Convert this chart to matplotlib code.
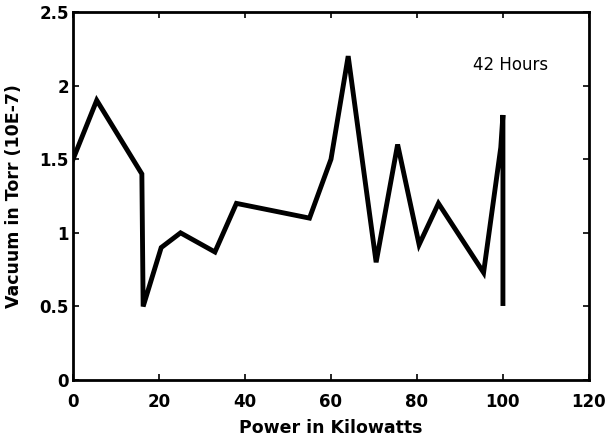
import matplotlib
matplotlib.use("Agg")
import matplotlib.pyplot as plt

power_kw = [0, 5.5, 16, 16.3, 20.5, 25, 33, 38, 55, 60, 64, 70.5, 75.5, 80.5, 85, 95.5, 99.5, 100, 100]
vacuum = [1.5, 1.9, 1.4, 0.5, 0.9, 1.0, 0.87, 1.2, 1.1, 1.5, 2.2, 0.8, 1.6, 0.92, 1.2, 0.73, 1.58, 1.8, 0.52]
x_ticks = [0, 20, 40, 60, 80, 100, 120]
y_ticks = [0, 0.5, 1, 1.5, 2, 2.5]
y_tick_labels = ["0", "0.5", "1", "1.5", "2", "2.5"]

plt.rcParams['font.family'] = ['DejaVu Sans']

fig = plt.figure(figsize=(6.09, 4.42), dpi=100)
ax = fig.add_axes([0.12, 0.14, 0.847, 0.833])
ax.plot(power_kw, vacuum, color='black', linewidth=3.5, solid_joinstyle='miter')
ax.set_xlim(0, 120)
ax.set_ylim(0, 2.5)
ax.set_xticks(x_ticks)
ax.set_yticks(y_ticks)
ax.set_yticklabels(y_tick_labels)
ax.tick_params(direction='in', top=True, right=True, length=4, width=1.2,
               labelsize=12)
ax.tick_params(axis='x', pad=9)
ax.tick_params(axis='y', pad=3)
for lbl in ax.get_xticklabels() + ax.get_yticklabels():
    lbl.set_fontweight('bold')
for s in ax.spines.values():
    s.set_linewidth(2)
ax.set_xlabel("Power in Kilowatts", fontsize=12.5, fontweight='bold', labelpad=6)
ax.set_ylabel("Vacuum in Torr (10E-7)", fontsize=12.5, fontweight='bold', labelpad=12)
ax.text(93, 2.14, "42 Hours", fontsize=12, ha='left', va='center')

fig.savefig("out.png", dpi=100)
